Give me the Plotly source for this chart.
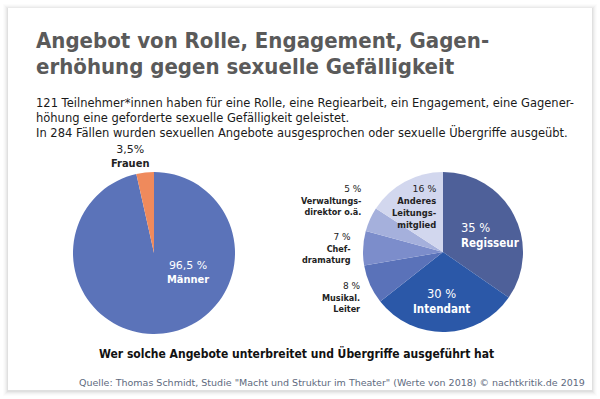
import plotly.graph_objects as go

W, H = 600, 399

# ---- data ----
title_lines = ["Angebot von Rolle, Engagement, Gagen-", "erhöhung gegen sexuelle Gefälligkeit"]
subtitle_lines = [
    "121 Teilnehmer*innen haben für eine Rolle, eine Regiearbeit, ein Engagement, eine Gagener-",
    "höhung eine geforderte sexuelle Gefälligkeit geleistet.",
    "In 284 Fällen wurden sexuellen Angebote ausgesprochen oder sexuelle Übergriffe ausgeübt.",
]
gender_labels = ["Männer", "Frauen"]
gender_values = [96.5, 3.5]
gender_pct = ["96,5 %", "3,5%"]

role_labels = ["Regisseur", "Intendant", "Musikal.<br>Leiter", "Chef-<br>dramaturg",
               "Verwaltungs-<br>direktor o.ä.", "Anderes<br>Leitungs-<br>mitglied"]
role_values = [35, 30, 8, 7, 5, 16]
role_pct = ["35 %", "30 %", "8 %", "7 %", "5 %", "16 %"]

caption = "Wer solche Angebote unterbreitet und Übergriffe ausgeführt hat"
source = 'Quelle: Thomas Schmidt, Studie "Macht und Struktur im Theater" (Werte von 2018) © nachtkritik.de 2019'

# ---- styles ----
gender_colors = ["#5b73b9", "#ef8a5c"]
role_colors = ["#4e6099", "#2b58a8", "#5a72b9", "#7c8dcb", "#a5b0dc", "#d2d7ee"]
FONT = "DejaVu Sans"
FONT_B = "DejaVu Sans Condensed"


def px(x):
    return x / W


def py(y):
    return 1 - y / H


def dom(cx, cy, r):
    return dict(x=[px(cx - r), px(cx + r)], y=[py(cy + r), py(cy - r)])


fig = go.Figure()
fig.add_trace(go.Pie(labels=gender_labels, values=gender_values, sort=False,
                     direction="clockwise", rotation=0, textinfo="none",
                     marker=dict(colors=gender_colors, line=dict(width=0)),
                     domain=dom(154, 253, 81), showlegend=False))
fig.add_trace(go.Pie(labels=[l.replace("<br>", " ") for l in role_labels], values=role_values,
                     sort=False, direction="clockwise", rotation=0, textinfo="none",
                     marker=dict(colors=role_colors, line=dict(width=0)),
                     domain=dom(443, 252, 80), showlegend=False))

ann = []


def add(text, x, y, size, color, family=FONT, xanchor="center", align="center", weight=None):
    f = dict(family=family, size=size, color=color)
    if weight:
        f["weight"] = weight
    ann.append(dict(text=text, x=px(x), y=py(y), xref="paper", yref="paper",
                    xanchor=xanchor, yanchor="middle", align=align, showarrow=False,
                    font=f))


# title
add(title_lines[0], 34, 40, 22, "#5a5a5a", FONT_B, "left", "left", "bold")
add(title_lines[1], 34, 66, 22, "#5a5a5a", FONT_B, "left", "left", "bold")
for i, s in enumerate(subtitle_lines):
    add(s, 34, 103 + 14.5 * i, 11.5, "#1a1a1a", FONT, "left", "left")


def lab(pct, name):
    return f"{pct}<br><b style='font-family:{FONT_B}'>{name}</b>"


# gender labels
add(lab(gender_pct[0], gender_labels[0]), 188, 272, 11, "white")
add(lab(gender_pct[1], gender_labels[1]), 130, 157, 11, "#222222")

# role labels
add(lab(role_pct[0], role_labels[0]), 459, 235, 11.5, "white", xanchor="left", align="left")
add(lab(role_pct[1], role_labels[1]), 441, 301, 11.5, "white")
add(lab(role_pct[2], role_labels[2]), 363, 297, 9, "#222222", xanchor="right", align="right")
add(lab(role_pct[3], role_labels[3]), 353, 248, 9, "#222222", xanchor="right", align="right")
add(lab(role_pct[4], role_labels[4]), 364, 200, 9, "#222222", xanchor="right", align="right")
add(lab(role_pct[5], role_labels[5]), 439, 206, 9.3, "#222222", xanchor="right", align="right")

add(caption, 296, 353, 12, "#111111", FONT_B, weight="bold")
add(source, 587, 382, 9.5, "#5e6a7e", FONT, "right", "right")

# card with soft shadow
shapes = []
for i, a in enumerate([0.012, 0.016, 0.022, 0.03, 0.04]):
    d = 5 - i
    shapes.append(dict(type="rect", xref="paper", yref="paper", layer="below",
                       x0=px(8 - d), x1=px(592 + d), y0=py(390 + d + 1), y1=py(8 - d + 1),
                       line=dict(width=0), fillcolor=f"rgba(0,0,0,{a})"))
shapes.append(dict(type="rect", xref="paper", yref="paper", layer="below",
                   x0=px(8), x1=px(592), y0=py(390), y1=py(8),
                   line=dict(width=0), fillcolor="white"))

fig.update_layout(width=W, height=H, margin=dict(l=0, r=0, t=0, b=0),
                  paper_bgcolor="white", plot_bgcolor="white",
                  annotations=ann, shapes=shapes)
fig.write_html("out.html", config=dict(displayModeBar=False),
               post_script="document.body.style.margin='0';document.body.style.overflow='hidden';")
